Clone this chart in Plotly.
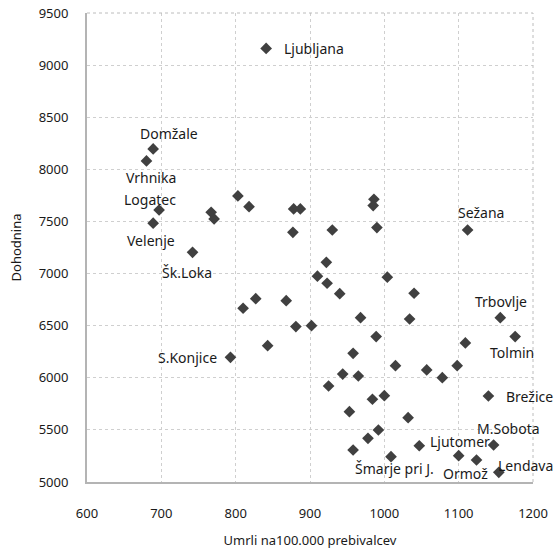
import plotly.graph_objects as go

names = ["Ljubljana", "Domžale", "Vrhnika", "Logatec", "Velenje", "", "", "", "", "", "",
         "", "", "", "", "", "Sežana", "Šk.Loka", "", "", "", "", "", "", "",
         "S.Konjice", "", "", "", "", "", "", "", "Trbovlje", "", "", "Tolmin",
         "", "", "", "", "", "", "", "", "Brežice", "", "", "", "", "", "", "",
         "Šmarje pri J.", "Ljutomer", "", "Ormož", "M.Sobota", "Lendava"]
umrli = [841, 689, 680, 697, 689, 803, 818, 767, 771, 878, 887,
         877, 986, 985, 930, 990, 1112, 742, 910, 810, 827, 868, 881, 902, 843,
         793, 922, 923, 1004, 940, 1040, 968, 1034, 1156, 989, 1109, 1176,
         958, 1015, 1057, 1098, 1078, 944, 965, 925, 1140, 984, 1000, 953, 1032, 992, 978, 958,
         1009, 1047, 1100, 1124, 1147, 1154]
dohodnina = [9160, 8196, 8081, 7610, 7483, 7745, 7642, 7588, 7524, 7620, 7620,
             7396, 7713, 7652, 7418, 7441, 7418, 7204, 6975, 6667, 6759, 6740, 6491, 6500, 6308,
             6196, 7108, 6907, 6965, 6807, 6811, 6577, 6564, 6577, 6395, 6334, 6395,
             6235, 6116, 6075, 6116, 6001, 6036, 6017, 5921, 5825, 5794, 5828, 5675, 5617, 5499, 5419, 5307,
             5243, 5348, 5253, 5211, 5355, 5093]

label_offsets = {
    "Ljubljana": (48, 0), "Domžale": (16, 15), "Vrhnika": (5, -17), "Logatec": (-9, 10),
    "Velenje": (-2, -17), "Šk.Loka": (-6, -20), "S.Konjice": (-43, 0), "Sežana": (13, 17),
    "Trbovlje": (1, 16), "Tolmin": (-3, -16), "Brežice": (41, 0), "M.Sobota": (15, 17),
    "Ljutomer": (41, 4), "Ormož": (-11, -13), "Lendava": (27, 7), "Šmarje pri J.": (3, -12),
}

FONT = "Noto Sans"
fig = go.Figure()
fig.add_trace(go.Scatter(
    x=umrli, y=dohodnina, mode="markers",
    marker=dict(symbol="diamond", size=9, color="#404040"),
    hoverinfo="skip", showlegend=False,
))

for n, xv, yv in zip(names, umrli, dohodnina):
    if n:
        dx, dy = label_offsets[n]
        fig.add_annotation(x=xv, y=yv, text=n, showarrow=False, xshift=dx, yshift=dy,
                           font=dict(family=FONT, size=14, color="#1a1a1a"))

axis_common = dict(
    showgrid=True, gridcolor="#cfcfcf", griddash="dot", gridwidth=1,
    showline=True, linecolor="#b4b4b4", linewidth=2, zeroline=False, automargin=False,
    ticks="", tickfont=dict(family=FONT, size=13, color="#1a1a1a"),
)
fig.update_xaxes(range=[600, 1200], dtick=100, tickformat="d", ticklabelstandoff=18,
                 title=dict(text="Umrli na100.000 prebivalcev", standoff=18,
                            font=dict(family=FONT, size=13, color="#1a1a1a")),
                 **axis_common)
fig.update_yaxes(range=[5000, 9500], dtick=500, tickformat="d", ticklabelstandoff=14,
                 title=dict(text="Dohodnina", standoff=14,
                            font=dict(family=FONT, size=13, color="#1a1a1a")),
                 **axis_common)
fig.add_shape(type="line", xref="paper", yref="paper", x0=0, x1=1, y0=1, y1=1,
              line=dict(color="#bcbcbc", width=1, dash="dot"))
fig.add_shape(type="line", xref="paper", yref="paper", x0=1, x1=1, y0=0, y1=1,
              line=dict(color="#bcbcbc", width=1, dash="dot"))
fig.update_layout(width=556, height=549, margin=dict(l=87, r=23, t=13, b=67),
                  plot_bgcolor="white", paper_bgcolor="white")
fig.write_html("out.html", config={"displayModeBar": False},
               post_script="document.body.style.margin='0';document.body.style.overflow='hidden';")
